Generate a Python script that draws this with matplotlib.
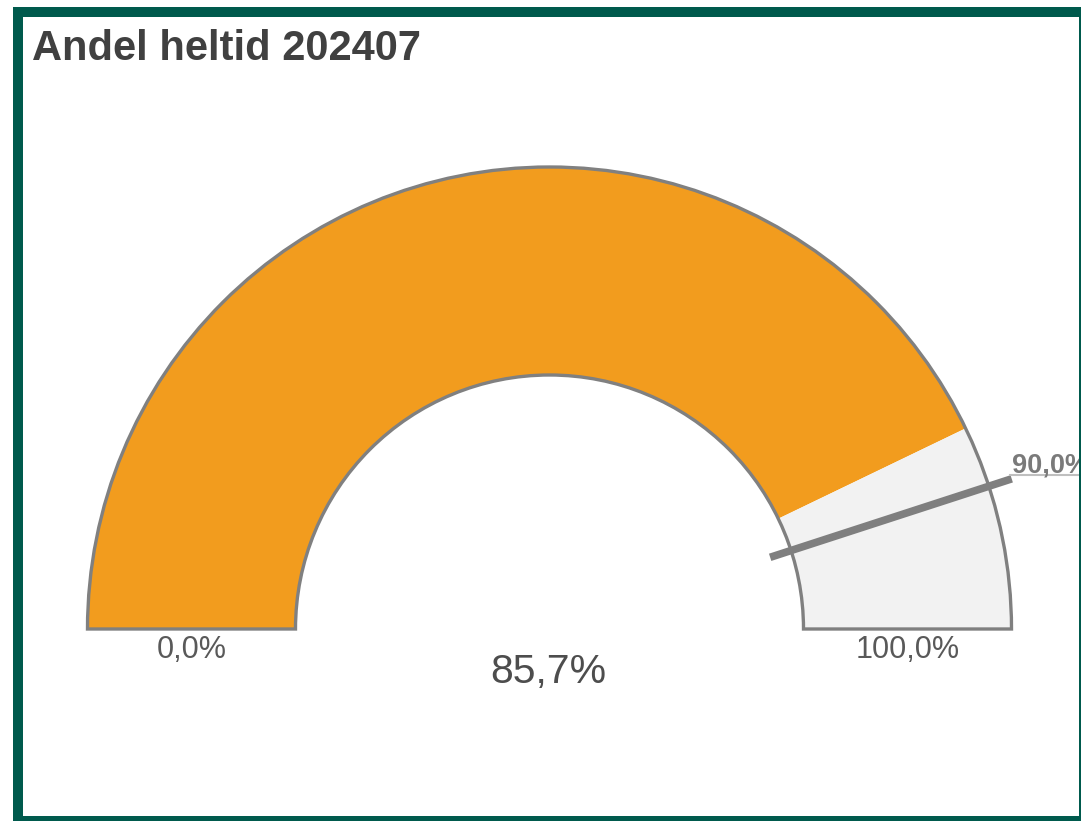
import matplotlib.pyplot as plt
from matplotlib.patches import Wedge, Rectangle
import numpy as np

plt.rcParams['font.family'] = ['Liberation Sans', 'DejaVu Sans']

title = "Andel heltid 202407"
gauge_min = 0.0
gauge_max = 100.0
value = 85.7
target = 90.0
min_label = "0,0%"
max_label = "100,0%"
value_label = "85,7%"
target_label = "90,0%"

W, H = 1081, 821
fig = plt.figure(figsize=(W / 100, H / 100), dpi=100)
ax = fig.add_axes([0, 0, 1, 1])
ax.set_xlim(0, W)
ax.set_ylim(0, H)
ax.set_aspect('equal')
ax.axis('off')

# pixel y -> data y
def py(y):
    return H - y

cx, cy = 549.5, py(629)
r_out, r_in = 462, 254
band = r_out - r_in

def frac_to_angle(v):
    return 180.0 * (1 - (v - gauge_min) / (gauge_max - gauge_min))

a_val = frac_to_angle(value)
ax.add_patch(Wedge((cx, cy), r_out, a_val, 180, width=band,
                   facecolor='#f29c1e', edgecolor='none'))
ax.add_patch(Wedge((cx, cy), r_out, 0, a_val, width=band,
                   facecolor='#f2f2f2', edgecolor='none'))
ax.add_patch(Wedge((cx, cy), r_out, 0, 180, width=band,
                   facecolor='none', edgecolor='#808080', linewidth=2.4,
                   joinstyle='miter'))

# target marker
a_t = np.radians(frac_to_angle(target))
r0, r1 = r_in - 22, r_out + 24
ax.plot([cx + r0 * np.cos(a_t), cx + r1 * np.cos(a_t)],
        [cy + r0 * np.sin(a_t), cy + r1 * np.sin(a_t)],
        color='#7f7f7f', linewidth=5.5, solid_capstyle='butt')
ex = cx + r1 * np.cos(a_t)
ax.plot([ex - 2, W + 5], [py(475), py(475)], color='#bfbfbf', linewidth=1.5)
ax.text(1012, py(472), target_label, fontsize=19.5, fontweight='bold',
        color='#7a7a7a', ha='left', va='baseline')

# labels
ax.text(cx - (r_out + r_in) / 2, py(658), min_label, fontsize=22,
        color='#595959', ha='center', va='baseline')
ax.text(cx + (r_out + r_in) / 2, py(658), max_label, fontsize=22,
        color='#595959', ha='center', va='baseline')
ax.text(548, py(683), value_label, fontsize=29.5,
        color='#4d4d4d', ha='center', va='baseline')

ax.text(32, py(60), title, fontsize=30, fontweight='bold',
        color='#404040', ha='left', va='baseline')

# outer frame
frame = '#005a4d'
fig.patches.append(Rectangle((18 / W, 0.5 / H), (1083 - 18) / W, (H - 12 - 0.5) / H,
                             transform=fig.transFigure, facecolor='none',
                             edgecolor=frame, linewidth=7.2))
fig.patches.append(Rectangle((1078.5 / W, 0), 3 / W, (H - 7) / H,
                             transform=fig.transFigure, facecolor=frame,
                             edgecolor='none'))

fig.savefig('out.png', dpi=100)
